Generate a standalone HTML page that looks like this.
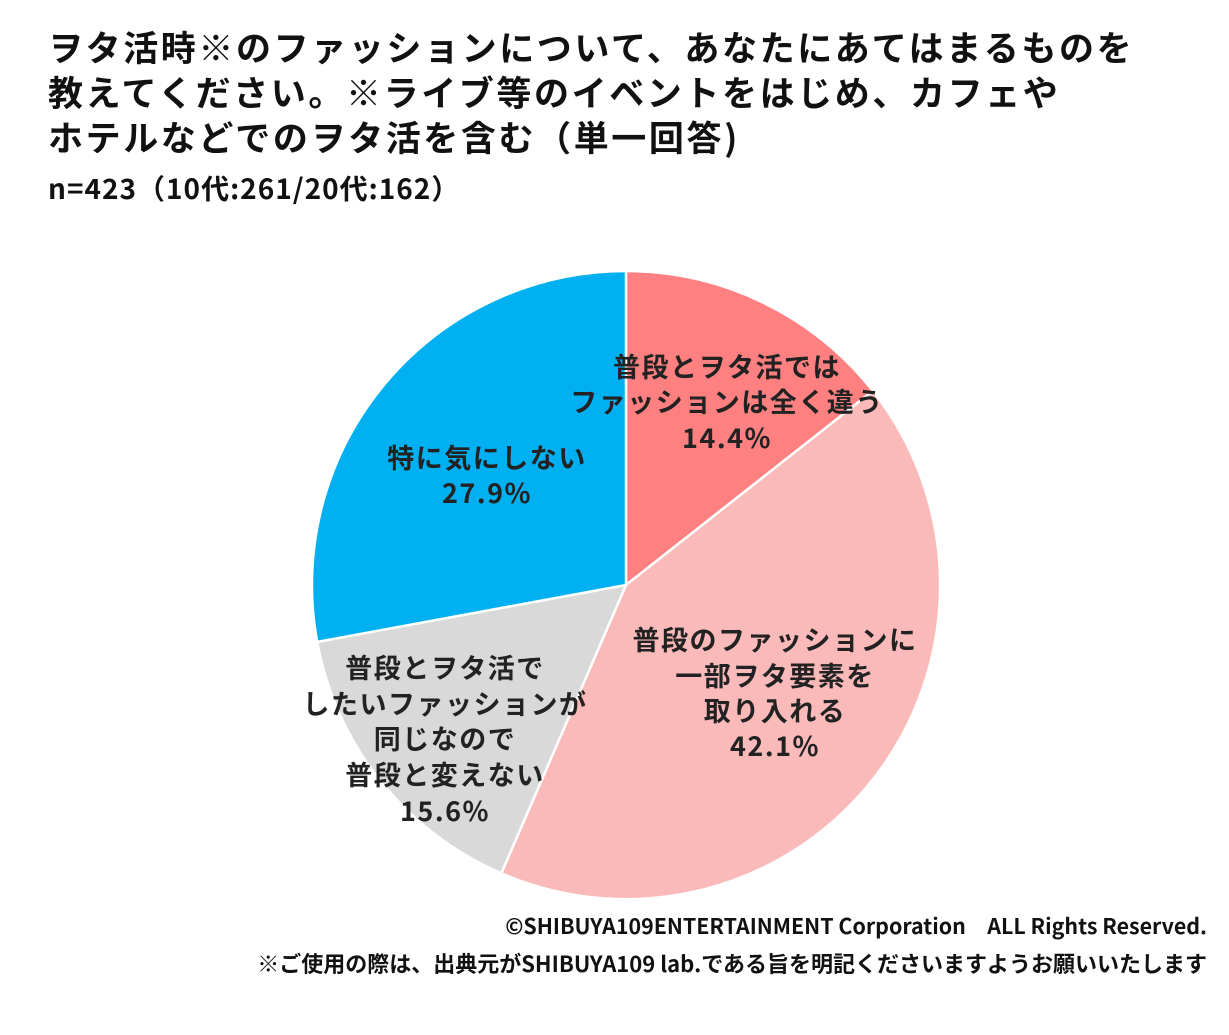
<!DOCTYPE html>
<html><head><meta charset="utf-8"><style>
html,body{margin:0;padding:0;background:#fff;}
body{width:1229px;height:1035px;position:relative;overflow:hidden;font-family:"Noto Sans CJK JP","Liberation Sans",sans-serif;color:#111;}
.t{position:absolute;left:48px;top:24px;font-weight:bold;font-size:35px;letter-spacing:2.6px;line-height:45px;white-space:nowrap;}
.n{position:absolute;left:48px;top:168px;font-weight:bold;font-size:28px;letter-spacing:1px;white-space:nowrap;}
.f{position:absolute;right:22px;font-weight:bold;white-space:nowrap;}
svg text{font-family:"Noto Sans CJK JP","Liberation Sans",sans-serif;font-weight:bold;font-size:27px;letter-spacing:1.5px;fill:#222;text-anchor:middle;}
</style></head><body>
<div class="t">ヲタ活時※のファッションについて、あなたにあてはまるものを<br>教えてください。※ライブ等のイベントをはじめ、カフェや<br>ホテルなどでのヲタ活を含む（単一回答)</div>
<div class="n">n=423（10代:261/20代:162）</div>
<svg width="1229" height="1035" style="position:absolute;left:0;top:0">
<g stroke="#fff" stroke-width="2.5">
<path d="M626,585 L626,271 A314,314 0 0 1 872.8,390.9 Z" fill="#FF8080"/>
<path d="M626,585 L872.8,390.9 A314,314 0 0 1 501.3,873.3 Z" fill="#FBBABA"/>
<path d="M626,585 L501.3,873.3 A314,314 0 0 1 317.2,641.9 Z" fill="#D9D9D9"/>
<path d="M626,585 L317.2,641.9 A314,314 0 0 1 626,271 Z" fill="#00B0F0"/>
</g>
<text x="727" y="377">普段とヲタ活では</text>
<text x="727" y="412">ファッションは全く違う</text>
<text x="727" y="448">14.4%</text>
<text x="487" y="468">特に気にしない</text>
<text x="487" y="503">27.9%</text>
<text x="775" y="650">普段のファッションに</text>
<text x="775" y="686">一部ヲタ要素を</text>
<text x="775" y="721">取り入れる</text>
<text x="775" y="756">42.1%</text>
<text x="445" y="678">普段とヲタ活で</text>
<text x="445" y="714">したいファッションが</text>
<text x="445" y="749">同じなので</text>
<text x="445" y="785">普段と変えない</text>
<text x="445" y="821">15.6%</text>
</svg>
<div class="f" style="top:910px;font-size:21.4px">©SHIBUYA109ENTERTAINMENT Corporation　ALL Rights Reserved.</div>
<div class="f" style="top:947px;font-size:22px">※ご使用の際は、出典元がSHIBUYA109 lab.である旨を明記くださいますようお願いいたします</div>
</body></html>
